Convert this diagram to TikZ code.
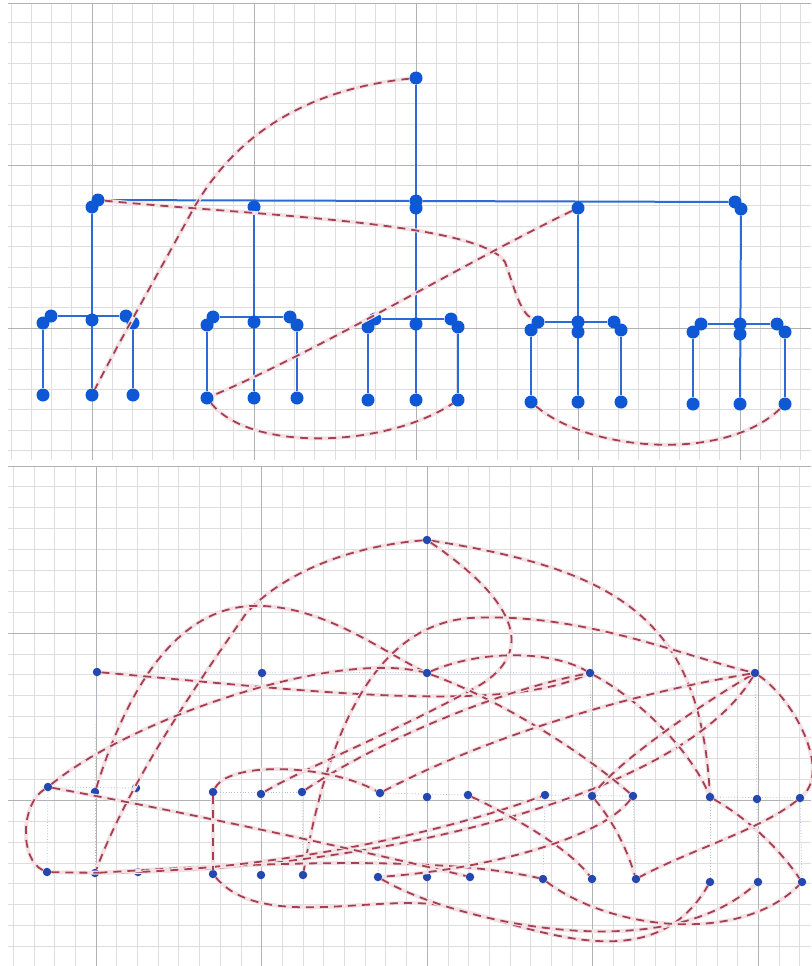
\documentclass[tikz,border=0pt]{standalone}
\usetikzlibrary{backgrounds}
\definecolor{tblue}{RGB}{14,88,214}
\definecolor{tlinec}{RGB}{45,105,215}
\definecolor{bblue}{RGB}{35,72,175}
\definecolor{rdashc}{RGB}{168,62,82}
\definecolor{gminor}{RGB}{222,222,222}
\definecolor{gmajor}{RGB}{178,178,178}
\begin{document}
\begin{tikzpicture}[x=1pt,y=-1pt,
  minorgrid/.style={draw=gminor, line width=0.7pt},
  majorgrid/.style={draw=gmajor, line width=0.9pt},
  tdot/.style={circle, fill=tblue, inner sep=0pt, minimum size=13pt},
  bdot/.style={circle, fill=bblue, inner sep=0pt, minimum size=8.5pt},
  treeline/.style={draw=tlinec, line width=2pt},
  faintline/.style={draw=bblue!35, line width=0.8pt, dotted},
  reddash/.style={draw=rdashc, line width=1.8pt, dash pattern=on 8pt off 6pt,
     preaction={draw=rdashc!15, line width=4pt, solid}}]
\useasboundingbox (0,0) rectangle (811,966);

% ---------------- nodes: top panel ----------------
\node[tdot] (r) at (416,78) {};
\node[tdot] (a1) at (92,207) {};  \node[tdot] (a1x) at (98,200) {};
\node[tdot] (a2) at (254,207) {};
\node[tdot] (a3) at (416,208) {}; \node[tdot] (a3x) at (416,201) {};
\node[tdot] (a4) at (578,208) {};
\node[tdot] (a5) at (741,209) {}; \node[tdot] (a5x) at (735,202) {};
% group 1
\node[tdot] (g1l) at (43,323) {}; \node[tdot] (g1lx) at (51,316) {};
\node[tdot] (g1c) at (92,320) {};
\node[tdot] (g1r) at (126,316) {}; \node[tdot] (g1rx) at (133,323) {};
\node[tdot] (f1l) at (43,395) {}; \node[tdot] (f1c) at (92,395) {}; \node[tdot] (f1r) at (133,395) {};
% group 2
\node[tdot] (g2l) at (207,325) {}; \node[tdot] (g2lx) at (213,317) {};
\node[tdot] (g2c) at (254,322) {};
\node[tdot] (g2r) at (290,317) {}; \node[tdot] (g2rx) at (297,325) {};
\node[tdot] (f2l) at (207,398) {}; \node[tdot] (f2c) at (254,398) {}; \node[tdot] (f2r) at (297,398) {};
% group 3
\node[tdot] (g3l) at (368,327) {}; \node[tdot] (g3lx) at (375,319) {};
\node[tdot] (g3c) at (416,324) {};
\node[tdot] (g3r) at (451,319) {}; \node[tdot] (g3rx) at (458,327) {};
\node[tdot] (f3l) at (368,400) {}; \node[tdot] (f3c) at (416,400) {}; \node[tdot] (f3r) at (458,400) {};
% group 4
\node[tdot] (g4l) at (531,330) {}; \node[tdot] (g4lx) at (538,322) {};
\node[tdot] (g4c) at (578,322) {}; \node[tdot] (g4cx) at (578,332) {};
\node[tdot] (g4r) at (614,322) {}; \node[tdot] (g4rx) at (621,330) {};
\node[tdot] (f4l) at (531,402) {}; \node[tdot] (f4c) at (578,402) {}; \node[tdot] (f4r) at (621,402) {};
% group 5
\node[tdot] (g5l) at (693,332) {}; \node[tdot] (g5lx) at (701,324) {};
\node[tdot] (g5c) at (740,324) {}; \node[tdot] (g5cx) at (740,334) {};
\node[tdot] (g5r) at (777,324) {}; \node[tdot] (g5rx) at (785,332) {};
\node[tdot] (f5l) at (693,404) {}; \node[tdot] (f5c) at (740,404) {}; \node[tdot] (f5r) at (785,404) {};

% ---------------- nodes: bottom panel ----------------
\node[bdot] (R) at (427,540) {};
\node[bdot] (La) at (97,672) {};
\node[bdot] (Lb) at (262,673) {};
\node[bdot] (Lc) at (427,673) {};
\node[bdot] (Ld) at (590,673) {};
\node[bdot] (Le) at (755,673) {};
\foreach \i/\x/\y in {1/48/787,2/95/792,3/136/788,4/213/792,5/261/794,6/302/792,
  7/380/793,8/427/797,9/468/795,10/545/795,11/592/796,12/633/796,13/710/797,14/757/799,15/800/798}
  \node[bdot] (M\i) at (\x,\y) {};
\foreach \i/\x/\y in {1/47/872,2/95/873,3/138/872,4/213/874,5/261/875,6/303/875,
  7/378/877,8/427/877,9/470/877,10/543/879,11/592/879,12/636/879,13/710/882,14/758/882,15/802/882}
  \node[bdot] (F\i) at (\x,\y) {};

\begin{pgfonlayer}{background}
  \fill[white] (0,0) rectangle (811,966);
  % top grid
  \begin{scope}
    \clip (8,3) rectangle (811,460);
    \foreach \k in {-4,...,35} \draw[minorgrid] ({92+20.25*\k},3) -- ({92+20.25*\k},460);
    \foreach \k in {-8,...,15} \draw[minorgrid] (8,{165+20.4*\k}) -- (811,{165+20.4*\k});
    \foreach \x in {92,254,416,578,740} \draw[majorgrid] (\x,3) -- (\x,460);
    \foreach \y in {3,165,328} \draw[majorgrid] (8,\y) -- (811,\y);
  \end{scope}
  % bottom grid
  \begin{scope}
    \clip (8,466) rectangle (811,966);
    \foreach \k in {-4,...,35} \draw[minorgrid] ({96+20.7*\k},466) -- ({96+20.7*\k},966);
    \foreach \k in {-8,...,16} \draw[minorgrid] (8,{633+20.9*\k}) -- (811,{633+20.9*\k});
    \foreach \x in {96,261,427,592,758} \draw[majorgrid] (\x,466) -- (\x,966);
    \foreach \y in {466,633,800} \draw[majorgrid] (8,\y) -- (811,\y);
  \end{scope}
  % top tree lines
  \draw[treeline] (a1x) -- (a3x) -- (a5x);
  \draw[treeline] (r) -- (f3c);
  \draw[treeline] (a1) -- (f1c);
  \draw[treeline] (a2) -- (f2c);
  \draw[treeline] (a4) -- (f4c);
  \draw[treeline] (a5) -- (f5c);
  \draw[treeline] (g1lx) -- (g1r);  \draw[treeline] (g1l) -- (f1l);  \draw[treeline] (g1rx) -- (f1r);
  \draw[treeline] (g2lx) -- (g2r);  \draw[treeline] (g2l) -- (f2l);  \draw[treeline] (g2rx) -- (f2r);
  \draw[treeline] (g3lx) -- (g3r);  \draw[treeline] (g3l) -- (f3l);  \draw[treeline] (g3rx) -- (f3r);
  \draw[treeline] (g4lx) -- (g4r);  \draw[treeline] (g4l) -- (f4l);  \draw[treeline] (g4rx) -- (f4r);
  \draw[treeline] (g5lx) -- (g5r);  \draw[treeline] (g5l) -- (f5l);  \draw[treeline] (g5rx) -- (f5r);
  % bottom faint tree lines
  \draw[faintline] (La) -- (Le);
  \draw[faintline] (R) -- (Lc);
  \draw[faintline] (La) -- (M2);  \draw[faintline] (Lb) -- (M5);  \draw[faintline] (Lc) -- (M8);
  \draw[faintline] (Ld) -- (M11); \draw[faintline] (Le) -- (M14);
  \draw[faintline] (M1) -- (M3);  \draw[faintline] (M4) -- (M6);  \draw[faintline] (M7) -- (M9);
  \draw[faintline] (M10) -- (M12); \draw[faintline] (M13) -- (M15);
  \foreach \i in {1,...,15} \draw[faintline] (M\i) -- (F\i);
\end{pgfonlayer}

% ---------------- dashed connectors: top panel ----------------
\draw[reddash] (r) .. controls (300,90) and (230,140) .. (190,215) .. controls (160,270) and (120,340) .. (f1c);
\draw[reddash] (a1x) .. controls (250,215) and (480,222) .. (505,262) .. controls (515,290) and (520,312) .. (g4lx);
\draw[reddash] (a4) .. controls (470,260) and (320,350) .. (f2l);
\draw[reddash] (f2l) .. controls (250,452) and (385,448) .. (f3r);
\draw[reddash] (f4l) .. controls (590,452) and (725,462) .. (f5r);

% ---------------- dashed connectors: bottom panel ----------------
\draw[reddash] (R) .. controls (330,548) and (270,585) .. (245,615) .. controls (200,680) and (130,780) .. (F2);
\draw[reddash] (M2) .. controls (130,680) and (180,610) .. (250,606) .. controls (320,603) and (380,650) .. (Lc);
\draw[reddash] (La) .. controls (300,690) and (500,715) .. (Ld);
\draw[reddash] (R) .. controls (620,570) and (700,620) .. (M13);
\draw[reddash] (F6) .. controls (330,720) and (380,625) .. (470,618) .. controls (580,612) and (680,655) .. (Le);
\draw[reddash] (R) .. controls (500,590) and (545,645) .. (480,685) .. controls (400,730) and (300,770) .. (M5);
\draw[reddash] (M1) .. controls (130,720) and (330,650) .. (Lc);
\draw[reddash] (M1) .. controls (20,805) and (20,860) .. (F1);
\draw[reddash] (F1) .. controls (350,880) and (680,800) .. (Le);
\draw[reddash] (F2) .. controls (300,860) and (450,858) .. (F10);
\draw[reddash] (F3) .. controls (300,865) and (450,830) .. (M10);
\draw[reddash] (F4) .. controls (260,930) and (370,895) .. (440,905) .. controls (530,925) and (650,985) .. (F13);
\draw[reddash] (F7) .. controls (450,920) and (660,970) .. (F14);
\draw[reddash] (F10) .. controls (610,930) and (740,945) .. (F15);
\draw[reddash] (Le) .. controls (795,700) and (830,770) .. (M15);
\draw[reddash] (M13) .. controls (750,820) and (780,850) .. (F15);
\draw[reddash] (M15) .. controls (760,830) and (690,850) .. (F12);
\draw[reddash] (Lc) .. controls (480,650) and (550,650) .. (Ld);
\draw[reddash] (Lc) .. controls (500,700) and (580,750) .. (M12);
\draw[reddash] (Ld) .. controls (640,700) and (690,750) .. (M13);
\draw[reddash] (Le) .. controls (700,705) and (620,760) .. (M11);
\draw[reddash] (M7) .. controls (500,730) and (650,690) .. (Le);
\draw[reddash] (M6) .. controls (380,740) and (500,690) .. (Ld);
\draw[reddash] (M1) .. controls (200,815) and (380,855) .. (F9);
\draw[reddash] (M4) .. controls (230,760) and (330,765) .. (M7);
\draw[reddash] (M4) -- (F4);
\draw[reddash] (M9) .. controls (520,820) and (570,850) .. (F11);
\draw[reddash] (M12) .. controls (600,840) and (480,870) .. (F7);
\draw[reddash] (M11) .. controls (620,830) and (630,860) .. (F12);
\end{tikzpicture}
\end{document}
